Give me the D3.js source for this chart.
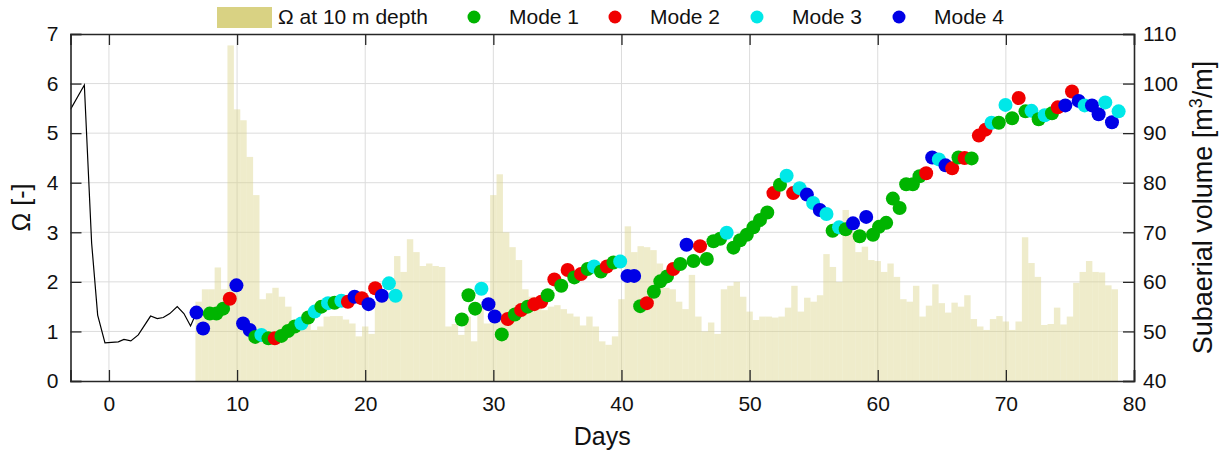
<!DOCTYPE html>
<html>
<head>
<meta charset="utf-8">
<script src="https://cdn.jsdelivr.net/npm/d3@7"></script>
<style>
  html, body { margin: 0; padding: 0; background: #fff; }
  svg { display: block; }
  svg text { fill: #111; }
</style>
</head>
<body>
<svg id="chart" width="1231" height="450"></svg>
<script>
// Beach profile after a storm: subaerial volume (line + mode dots) and wave Ω (bars)

// Pre-survey subaerial volume record [m3/m]
const lineDays   = [-3, -1.92, -1.35, -0.88, -0.31, 0.73, 1.17, 1.71, 2.29, 3.25, 3.77, 4.24, 4.75, 5.33, 5.85, 6.37, 6.83];
const lineVolume = [94.8, 99.7, 67.8, 53.3, 47.7, 47.9, 48.4, 48.1, 49.3, 53.1, 52.6, 52.8, 53.6, 55.0, 53.6, 51.1, 53.8];

// Ω at 10 m depth, half-day bins starting at day 7
const omegaStart = 7.0;
const omegaStep = 0.5;
const omegaValues = [
  1.6, 1.85, 1.85, 2.29, 1.85, 6.77, 5.48, 5.26, 4.52, 3.75,
  1.65, 1.77, 1.88, 1.7, 1.5, 1.23, 1.1, 1.16, 1.03, 1.1,
  1.3, 1.31, 1.31, 1.24, 1.16, 0.9, 1.1, 0.95, 1.6, 1.77,
  1.77, 2.52, 2.2, 2.86, 2.6, 2.32, 2.37, 2.32, 2.3, 1.1,
  1.15, 0.93, 1.3, 0.8, 1.5, 1.16, 3.75, 4.17, 3.0, 2.7,
  2.44, 1.85, 1.7, 1.5, 1.43, 1.5, 1.53, 1.45, 1.36, 1.3,
  1.12, 1.3, 1.1, 0.8, 0.73, 0.9, 1.65, 3.12, 2.6, 2.72,
  2.7, 2.64, 2.37, 1.88, 1.85, 1.6, 1.45, 2.14, 1.3, 1.0,
  1.18, 0.95, 1.85, 1.92, 2.0, 1.7, 1.4, 1.23, 1.3, 1.3,
  1.28, 1.3, 1.48, 1.92, 1.4, 1.68, 1.6, 1.73, 2.56, 2.3,
  2.0, 3.45, 3.0, 2.6, 2.71, 2.44, 2.42, 2.2, 2.37, 2.1,
  1.65, 1.6, 1.92, 1.3, 1.52, 1.95, 1.57, 1.38, 1.58, 1.5,
  1.73, 1.25, 1.1, 1.03, 1.25, 1.31, 1.2, 1.03, 1.2, 2.9,
  2.38, 2.1, 1.13, 1.15, 1.48, 1.14, 1.3, 1.98, 2.2, 2.42,
  2.2, 2.19, 1.93, 1.85
];

// Surveyed subaerial volume and the classified profile mode of each survey
const dotDays = [
  6.83, 7.35, 7.87, 8.39, 8.91, 9.43, 9.95, 10.47, 10.99, 11.42,
  11.9, 12.45, 12.94, 13.46, 13.98, 14.5, 15.02, 15.55, 16.06, 16.58,
  17.1, 17.61, 18.14, 18.65, 19.17, 19.74, 20.26, 20.78, 21.3, 21.85,
  22.37, 27.54, 28.06, 28.58, 29.07, 29.62, 30.11, 30.66, 31.12, 31.68,
  32.17, 32.68, 33.2, 33.74, 34.24, 34.76, 35.3, 35.8, 36.32, 36.84,
  37.36, 37.86, 38.4, 38.86, 39.38, 39.9, 40.47, 40.99, 41.46, 41.98,
  42.53, 43.03, 43.55, 44.04, 44.59, 45.08, 45.62, 46.13, 46.66, 47.18,
  47.7, 48.21, 48.74, 49.26, 49.78, 50.3, 50.81, 51.38, 51.86, 52.37,
  52.89, 53.4, 53.9, 54.47, 54.96, 55.48, 56.0, 56.48, 56.98, 57.5,
  58.07, 58.59, 59.1, 59.63, 60.1, 60.66, 61.18, 61.71, 62.22, 62.74,
  63.26, 63.78, 64.25, 64.77, 65.29, 65.81, 66.3, 66.78, 67.33, 67.89,
  68.41, 68.88, 69.45, 69.97, 70.49, 71.0, 71.53, 72.0, 72.56, 73.03,
  73.6, 74.05, 74.64, 75.16, 75.68, 76.15, 76.72, 77.24, 77.76, 78.28,
  78.8
];
const dotVolume = [
  53.8, 50.6, 53.6, 53.6, 54.6, 56.6, 59.3, 51.6, 50.3, 48.9,
  49.3, 48.6, 48.6, 49.1, 50.1, 51.0, 51.6, 52.8, 54.0, 55.0,
  55.7, 55.8, 56.2, 56.0, 57.0, 56.7, 55.5, 58.7, 57.2, 59.7,
  57.2, 52.4, 57.3, 54.6, 58.6, 55.5, 53.0, 49.4, 52.5, 53.4,
  54.3, 55.0, 55.5, 56.0, 57.3, 60.5, 59.2, 62.4, 60.9, 61.6,
  62.6, 63.1, 62.1, 63.1, 63.9, 64.1, 61.2, 61.2, 55.1, 55.7,
  58.0, 60.1, 61.1, 62.6, 63.6, 67.5, 64.2, 67.2, 64.6, 68.2,
  68.7, 69.9, 66.9, 68.4, 69.5, 71.0, 72.5, 74.0, 77.9, 79.6,
  81.4, 77.9, 78.9, 77.6, 75.9, 74.5, 73.7, 70.3, 71.0, 70.6,
  71.8, 69.2, 73.1, 69.5, 71.1, 71.9, 76.8, 74.9, 79.7, 79.7,
  81.3, 81.9, 85.1, 84.7, 83.5, 82.9, 85.1, 85.0, 84.9, 89.5,
  90.7, 92.1, 92.1, 95.7, 93.0, 97.1, 94.4, 94.5, 92.8, 93.6,
  94.0, 95.2, 95.6, 98.4, 96.5, 95.6, 95.6, 93.8, 96.2, 92.2,
  94.4
];
const dotMode = [
  4, 4, 1, 1, 1, 2, 4, 4, 4, 1,
  3, 1, 2, 1, 1, 1, 3, 1, 3, 1,
  3, 1, 3, 2, 4, 2, 4, 2, 4, 3,
  3, 1, 1, 1, 3, 4, 4, 1, 2, 1,
  2, 1, 2, 2, 1, 2, 1, 2, 1, 2,
  1, 3, 1, 2, 1, 3, 4, 4, 1, 2,
  1, 1, 1, 2, 1, 4, 1, 2, 1, 1,
  1, 3, 1, 1, 1, 1, 1, 1, 2, 1,
  3, 2, 3, 4, 3, 4, 3, 1, 3, 1,
  4, 1, 4, 1, 1, 1, 1, 1, 1, 1,
  1, 2, 4, 3, 4, 2, 1, 2, 1, 2,
  2, 3, 1, 3, 1, 2, 1, 3, 1, 3,
  1, 2, 4, 2, 4, 3, 4, 4, 3, 4,
  3
];

const modeNames = ["Mode 1", "Mode 2", "Mode 3", "Mode 4"];
const modeColors = ["#00b400", "#f00000", "#00e8e8", "#0000e6"];

const xTicks = [0, 10, 20, 30, 40, 50, 60, 70, 80];
const omegaTicks = [0, 1, 2, 3, 4, 5, 6, 7];
const volumeTicks = [40, 50, 60, 70, 80, 90, 100, 110];

const fontFamily = "'Liberation Sans', Arial, sans-serif";
const barColor = "#d9d283";
const axisColor = "#262626";
const gridColor = "#dcdcdc";

const svg = d3.select("#chart").attr("font-family", fontFamily);
const plot = { left: 70.5, right: 1134, top: 34, bottom: 381 };

const x = d3.scaleLinear().domain([-3, 80]).range([plot.left, plot.right]);
const yO = d3.scaleLinear().domain([0, 7]).range([plot.bottom, plot.top]);
const yV = d3.scaleLinear().domain([40, 110]).range([plot.bottom, plot.top]);

svg.append("defs").append("clipPath").attr("id", "plotclip")
  .append("rect")
  .attr("x", plot.left).attr("y", plot.top)
  .attr("width", plot.right - plot.left).attr("height", plot.bottom - plot.top);

// grid
const grid = svg.append("g");
grid.selectAll("line.gx").data(xTicks.filter(t => t > -3 && t < 80)).join("line")
  .attr("x1", d => x(d)).attr("x2", d => x(d))
  .attr("y1", plot.top).attr("y2", plot.bottom)
  .attr("stroke", gridColor).attr("stroke-width", 1);
grid.selectAll("line.gy").data(omegaTicks.filter(t => t > 0 && t < 7)).join("line")
  .attr("x1", plot.left).attr("x2", plot.right)
  .attr("y1", d => yO(d)).attr("y2", d => yO(d))
  .attr("stroke", gridColor).attr("stroke-width", 1);

const body = svg.append("g").attr("clip-path", "url(#plotclip)");

// Ω bars
const bars = omegaValues.map((v, i) => ({ day: omegaStart + i * omegaStep, v }));
body.append("g").selectAll("rect").data(bars).join("rect")
  .attr("x", d => x(d.day - omegaStep / 2))
  .attr("width", x(omegaStep) - x(0))
  .attr("y", d => yO(d.v))
  .attr("height", d => yO(0) - yO(d.v))
  .attr("fill", barColor)
  .attr("fill-opacity", 0.42);

// pre-survey volume line
const linePts = lineDays.map((d, i) => [d, lineVolume[i]]);
body.append("path")
  .datum(linePts)
  .attr("d", d3.line().x(d => x(d[0])).y(d => yV(d[1])))
  .attr("fill", "none").attr("stroke", "#000").attr("stroke-width", 1.2);

// survey dots, drawn in time order
const dots = dotDays.map((d, i) => ({ day: d, vol: dotVolume[i], mode: dotMode[i] }));
body.append("g").selectAll("circle").data(dots).join("circle")
  .attr("cx", d => x(d.day))
  .attr("cy", d => yV(d.vol))
  .attr("r", 7)
  .attr("fill", d => modeColors[d.mode - 1]);

// axes
const tickLen = 11;
const fs = 21;
const axBottom = svg.append("g").attr("transform", `translate(0,${plot.bottom})`)
  .call(d3.axisBottom(x).tickValues(xTicks).tickSize(-tickLen).tickPadding(10).tickFormat(d3.format("d")));
const axTop = svg.append("g").attr("transform", `translate(0,${plot.top})`)
  .call(d3.axisTop(x).tickValues(xTicks).tickSize(-tickLen).tickFormat(""));
const axLeft = svg.append("g").attr("transform", `translate(${plot.left},0)`)
  .call(d3.axisLeft(yO).tickValues(omegaTicks).tickSize(-tickLen).tickPadding(12).tickFormat(d3.format("d")));
const axRight = svg.append("g").attr("transform", `translate(${plot.right},0)`)
  .call(d3.axisRight(yV).tickValues(volumeTicks).tickSize(-tickLen).tickPadding(9).tickFormat(d3.format("d")));

[axBottom, axTop, axLeft, axRight].forEach(a => {
  a.attr("font-family", fontFamily).attr("font-size", fs);
  a.select(".domain").attr("stroke", axisColor).attr("stroke-width", 1.6);
  a.selectAll(".tick line").attr("stroke", axisColor).attr("stroke-width", 1.3);
  a.selectAll(".tick text").attr("fill", "#111");
});
axBottom.selectAll(".tick text").attr("dy", "0.95em");

// axis titles
const plotMidX = (plot.left + plot.right) / 2;
const plotMidY = (plot.top + plot.bottom) / 2;
svg.append("text").attr("x", plotMidX).attr("y", 445)
  .attr("text-anchor", "middle").attr("font-size", 25).text("Days");
svg.append("text")
  .attr("transform", `translate(30,${plotMidY}) rotate(-90)`)
  .attr("text-anchor", "middle").attr("font-size", 25).text("Ω [-]");
const rt = svg.append("text")
  .attr("transform", `translate(1212,${plotMidY}) rotate(-90)`)
  .attr("text-anchor", "middle").attr("font-size", 27);
rt.append("tspan").text("Subaerial volume [m");
rt.append("tspan").attr("font-size", 18).attr("dy", -10).text("3");
rt.append("tspan").attr("dy", 10).text("/m]");

// legend
const lg = svg.append("g");
lg.append("rect").attr("x", 217).attr("y", 7).attr("width", 55).attr("height", 21).attr("fill", barColor);
lg.append("text").attr("x", 278).attr("y", 24).attr("font-size", fs).text("Ω at 10 m depth");
const legendX = [474, 615, 757, 899];
modeNames.forEach((name, i) => {
  lg.append("circle").attr("cx", legendX[i]).attr("cy", 17).attr("r", 6.5).attr("fill", modeColors[i]);
  lg.append("text").attr("x", legendX[i] + 35).attr("y", 24).attr("font-size", fs).text(name);
});
</script>
</body>
</html>
